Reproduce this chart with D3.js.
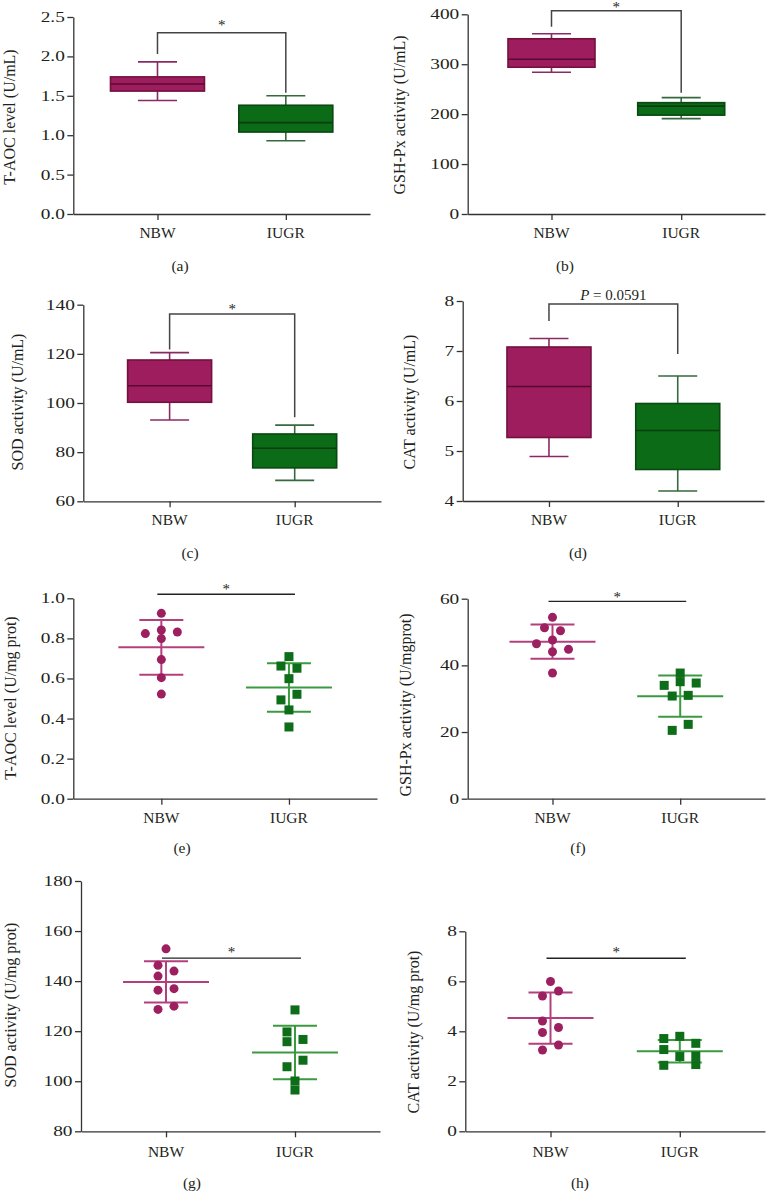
<!DOCTYPE html>
<html><head><meta charset="utf-8">
<script src="https://cdn.jsdelivr.net/npm/d3@7"></script>
<style>
body{margin:0;background:#fff}
svg{display:block}
text{font-family:"Liberation Serif","Times New Roman",serif;fill:#231f20}
</style>
</head><body>
<svg id="c" width="770" height="1191"></svg>
<script>
const groups = ["NBW", "IUGR"];

// Box plots (serum): [min, Q1, median, Q3, max]
const aNBW = [1.44, 1.56, 1.65, 1.74, 1.93];
const aIUGR = [0.93, 1.04, 1.16, 1.38, 1.50];
const bNBW = [284, 294, 310, 351, 361];
const bIUGR = [191, 198, 216, 223, 233];
const cNBW = [93.1, 100.3, 107.0, 117.5, 120.5];
const cIUGR = [68.5, 73.6, 81.6, 87.4, 91.0];
const dNBW = [4.89, 5.27, 6.29, 7.08, 7.25];
const dIUGR = [4.20, 4.63, 5.41, 5.95, 6.50];
// brackets: [top, NBW leg end, IUGR leg end]
const aBracket = [2.30, 2.03, 1.54];
const bBracket = [407, 375, 243];
const cBracket = [136.2, 121.8, 94.2];
const dBracket = [7.94, 7.60, 6.94];

// Dot plots (tissue): individual values + column slot in the dot cluster
const eNBW = [0.925, 0.842, 0.832, 0.824, 0.799, 0.694, 0.604, 0.522];
const eNBWslot = [0, 0, 2, -2, 0, 0, 0, 0];
const eIUGR = [0.709, 0.662, 0.651, 0.599, 0.493, 0.521, 0.443, 0.358];
const eIUGRslot = [0, -1, 1, 0, -1, 1, 0, 0];
const fNBW = [54.4, 51.3, 50.4, 47.6, 46.5, 44.8, 44.1, 37.7];
const fNBWslot = [0, -1, 1, 0, -2, 2, 0, 0];
const fIUGR = [37.7, 35.1, 34.0, 34.7, 30.8, 31.0, 22.3, 20.5];
const fIUGRslot = [0, 0, -2, 2, -1, 1, 1, -1];
const gNBW = [152.9, 146.3, 142.0, 144.0, 136.4, 137.0, 128.7, 130.0];
const gNBWslot = [0, -1, -1, 1, -1, 1, -1, 1];
const gIUGR = [128.5, 119.7, 115.8, 116.7, 108.4, 105.8, 100.1, 96.5];
const gIUGRslot = [0, -1, -1, 1, 1, -1, 0, 0];
const hNBW = [5.99, 5.41, 5.61, 4.41, 4.15, 3.95, 3.45, 3.25];
const hNBWslot = [0, -1, 1, -1, 1, -1, 1, -1];
const hIUGR = [3.71, 3.80, 3.52, 3.27, 2.99, 3.01, 2.64, 2.67];
const hIUGRslot = [-2, 0, 2, -2, 0, 2, -2, 2];
const eSig = 1.02, fSig = 59.2, gSig = 149.2, hSig = 6.92;

// Tick values
const aTicks = [0, 0.5, 1.0, 1.5, 2.0, 2.5];
const bTicks = [0, 100, 200, 300, 400];
const cTicks = [60, 80, 100, 120, 140];
const dTicks = [4, 5, 6, 7, 8];
const eTicks = [0, 0.2, 0.4, 0.6, 0.8, 1.0];
const fTicks = [0, 20, 40, 60];
const gTicks = [80, 100, 120, 140, 160, 180];
const hTicks = [0, 2, 4, 6, 8];

const COL = {
  NBW: {fill: "#9d1d5e", stroke: "#74113f", med: "#5a0a32", whisk: "#8a2a64", pt: "#9c1f60", line: "#b2407f"},
  IUGR: {fill: "#0b6b16", stroke: "#0a4912", med: "#0a3d10", whisk: "#36693f", pt: "#0d6d18", line: "#3b9a40"}
};

const svg = d3.select("#c");

function frame(L) {
  const g = svg.append("g");
  const y = d3.scaleLinear().domain(L.domain).range([L.bottom, L.top]);
  const x = d3.scalePoint().domain(groups).range([L.left, L.right]).padding(L.pad);
  const ya = g.append("g").attr("transform", `translate(${L.left},0)`)
    .call(d3.axisLeft(y).tickValues(L.ticks).tickFormat(d3.format(L.fmt)).tickSize(6).tickPadding(2.5).tickSizeOuter(0));
  const xa = g.append("g").attr("transform", `translate(0,${L.bottom})`)
    .call(d3.axisBottom(x).tickSize(6).tickSizeOuter(0).tickFormat(""));
  [ya, xa].forEach(a => {
    a.select(".domain").attr("stroke", "#333").attr("stroke-width", 1.3);
    a.selectAll(".tick line").attr("stroke", "#333").attr("stroke-width", 1.3);
  });
  ya.attr("font-family", null).attr("font-size", null);
  ya.selectAll(".tick text").attr("font-size", 14).attr("fill", "#231f20")
    .each(function() {
      const w = this.getComputedTextLength();
      this.setAttribute("textLength", w * 1.38);
      this.setAttribute("lengthAdjust", "spacingAndGlyphs");
    });
  g.selectAll(".glab").data(groups).join("text")
    .attr("x", d => x(d)).attr("y", L.groupY).attr("dy", "0.35em")
    .attr("text-anchor", "middle").attr("font-size", 15.5).text(d => d);
  g.append("text")
    .attr("transform", `translate(${L.titleX},${L.titleY}) rotate(-90)`)
    .attr("dy", "0.35em").attr("text-anchor", "middle").attr("font-size", 16).text(L.title);
  g.append("text").attr("x", L.subX).attr("y", L.subY).attr("dy", "0.35em")
    .attr("text-anchor", "middle").attr("font-size", 15.5).text(L.sub);
  return {g, x, y};
}

function star(g, cx, cy) {
  g.append("text").attr("x", cx).attr("y", cy + 7).attr("text-anchor", "middle")
    .attr("font-size", 15).attr("fill", "#444").text("*");
}

function boxPanel(L, nbw, iugr, br) {
  const {g, x, y} = frame(L);
  const data = [["NBW", nbw], ["IUGR", iugr]];
  data.forEach(([k, v]) => {
    const cx = x(k), c = COL[k], bw = L.boxW, cw = 39;
    const wg = g.append("g").attr("stroke", c.whisk).attr("stroke-width", 1.6);
    wg.append("line").attr("x1", cx).attr("x2", cx).attr("y1", y(v[4])).attr("y2", y(v[3]));
    wg.append("line").attr("x1", cx).attr("x2", cx).attr("y1", y(v[1])).attr("y2", y(v[0]));
    wg.append("line").attr("x1", cx - cw / 2).attr("x2", cx + cw / 2).attr("y1", y(v[4])).attr("y2", y(v[4]));
    wg.append("line").attr("x1", cx - cw / 2).attr("x2", cx + cw / 2).attr("y1", y(v[0])).attr("y2", y(v[0]));
    g.append("rect").attr("x", cx - bw / 2).attr("y", y(v[3]))
      .attr("width", bw).attr("height", y(v[1]) - y(v[3]))
      .attr("fill", c.fill).attr("stroke", c.stroke).attr("stroke-width", 1.6);
    g.append("line").attr("x1", cx - bw / 2).attr("x2", cx + bw / 2)
      .attr("y1", y(v[2])).attr("y2", y(v[2])).attr("stroke", c.med).attr("stroke-width", 1.6);
  });
  const x1 = x("NBW"), x2 = x("IUGR");
  g.append("path")
    .attr("d", `M${x1},${y(br[1])}V${y(br[0])}H${x2}V${y(br[2])}`)
    .attr("fill", "none").attr("stroke", "#444").attr("stroke-width", 1.5);
  if (L.pText) {
    const t = g.append("text").attr("x", (x1 + x2) / 2).attr("y", y(br[0]) - 4)
      .attr("text-anchor", "middle").attr("font-size", 15);
    t.append("tspan").attr("font-style", "italic").text("P");
    t.append("tspan").text(" = " + L.pText);
  } else {
    star(g, (x1 + x2) / 2, y(br[0]) + L.starOff);
  }
}

function dotPanel(L, nbw, nbwSlot, iugr, iugrSlot, sig) {
  const {g, x, y} = frame(L);
  const slotX = d3.scaleLinear().domain([-1, 1]).range([-8, 8]);
  const data = [["NBW", nbw, nbwSlot], ["IUGR", iugr, iugrSlot]];
  data.forEach(([k, v, s]) => {
    const cx = x(k), c = COL[k];
    const m = d3.mean(v), sd = d3.deviation(v);
    const lg = g.append("g").attr("stroke", c.line).attr("stroke-width", 2);
    lg.append("line").attr("x1", cx).attr("x2", cx).attr("y1", y(m + sd)).attr("y2", y(m - sd));
    lg.append("line").attr("x1", cx - 43).attr("x2", cx + 43).attr("y1", y(m)).attr("y2", y(m));
    [m + sd, m - sd].forEach(e => lg.append("line").attr("x1", cx - 22).attr("x2", cx + 22).attr("y1", y(e)).attr("y2", y(e)));
    const pts = v.map((val, i) => ({val, s: s[i]}));
    if (k === "NBW") {
      g.selectAll(null).data(pts).join("circle")
        .attr("cx", d => cx + slotX(d.s)).attr("cy", d => y(d.val)).attr("r", 4.5).attr("fill", c.pt);
    } else {
      g.selectAll(null).data(pts).join("rect")
        .attr("x", d => cx + slotX(d.s) - 4.5).attr("y", d => y(d.val) - 4.5)
        .attr("width", 9).attr("height", 9).attr("fill", c.pt);
    }
  });
  const x1 = x("NBW") - 4, x2 = x("IUGR") + 6;
  g.append("line").attr("x1", x1).attr("x2", x2).attr("y1", y(sig)).attr("y2", y(sig))
    .attr("stroke", "#222").attr("stroke-width", 1.4);
  star(g, (x("NBW") + x("IUGR")) / 2 + 1, y(sig) + L.starOff);
}

boxPanel({left: 73.3, right: 370, top: 17, bottom: 214, pad: 0.656, domain: [0, 2.5], ticks: aTicks, fmt: ".1f",
  title: "T-AOC level (U/mL)", titleX: 9, titleY: 117, groupY: 233, sub: "(a)", subX: 180, subY: 266, boxW: 94, starOff: -10},
  aNBW, aIUGR, aBracket);
boxPanel({left: 467.7, right: 765, top: 14.3, bottom: 214, pad: 0.646, domain: [0, 400], ticks: bTicks, fmt: "d",
  title: "GSH-Px activity (U/mL)", titleX: 399, titleY: 115, groupY: 233, sub: "(b)", subX: 565, subY: 266, boxW: 87, starOff: -6},
  bNBW, bIUGR, bBracket);
boxPanel({left: 83.3, right: 381, top: 304.7, bottom: 501.3, pad: 0.69, domain: [60, 140], ticks: cTicks, fmt: "d",
  title: "SOD activity (U/mL)", titleX: 17, titleY: 402, groupY: 520, sub: "(c)", subX: 190, subY: 553, boxW: 84, starOff: -7},
  cNBW, cIUGR, cBracket);
boxPanel({left: 462.7, right: 764, top: 301, bottom: 501, pad: 0.67, domain: [4, 8], ticks: dTicks, fmt: "d",
  title: "CAT activity (U/mL)", titleX: 409, titleY: 402, groupY: 520, sub: "(d)", subX: 578, subY: 553, boxW: 84, pText: "0.0591"},
  dNBW, dIUGR, dBracket);

dotPanel({left: 73.3, right: 377, top: 598.3, bottom: 798.7, pad: 0.69, domain: [0, 1], ticks: eTicks, fmt: ".1f",
  title: "T-AOC level (U/mg prot)", titleX: 10, titleY: 698, groupY: 818, sub: "(e)", subX: 182, subY: 848, starOff: -7},
  eNBW, eNBWslot, eIUGR, eIUGRslot, eSig);
dotPanel({left: 467.7, right: 765, top: 598.7, bottom: 798.7, pad: 0.664, domain: [0, 60], ticks: fTicks, fmt: "d",
  title: "GSH-Px activity (U/mgprot)", titleX: 405, titleY: 705, groupY: 818, sub: "(f)", subX: 578, subY: 848, starOff: -6},
  fNBW, fNBWslot, fIUGR, fIUGRslot, fSig);
dotPanel({left: 81, right: 380, top: 881, bottom: 1131.3, pad: 0.659, domain: [80, 180], ticks: gTicks, fmt: "d",
  title: "SOD activity (U/mg prot)", titleX: 10, titleY: 1005, groupY: 1151.7, sub: "(g)", subX: 192, subY: 1183, starOff: -8},
  gNBW, gNBWslot, gIUGR, gIUGRslot, gSig);
dotPanel({left: 465.3, right: 765, top: 931.3, bottom: 1131.3, pad: 0.659, domain: [0, 8], ticks: hTicks, fmt: "d",
  title: "CAT activity (U/mg prot)", titleX: 413, titleY: 1032, groupY: 1151.7, sub: "(h)", subX: 580, subY: 1183, starOff: -8},
  hNBW, hNBWslot, hIUGR, hIUGRslot, hSig);
</script>
</body></html>
